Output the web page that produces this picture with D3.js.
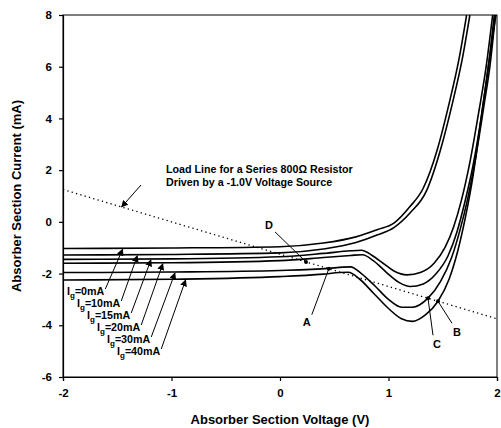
<!DOCTYPE html>
<html>
<head>
<meta charset="utf-8">
<script src="https://cdn.jsdelivr.net/npm/d3@7"></script>
<style>
  body { margin: 0; background: #fff; }
  text { font-family: "Liberation Sans", Arial, sans-serif; font-weight: bold; fill: #000; }
</style>
</head>
<body>
<div id="chart"></div>
<script>
// gain section currents, one curve each
const gainLabels = ["0mA", "10mA", "15mA", "20mA", "30mA", "40mA"];

// [voltage (V), current (mA)]
const curveIg0 = [[-2, -1.03], [-1, -1.01], [0, -0.96], [0.4, -0.82], [0.7, -0.58], [0.9, -0.3], [1.05, -0.05],
  [1.2, 0.6], [1.32, 1.3], [1.45, 2.8], [1.56, 4.6], [1.65, 6.3], [1.72, 8]];
const curveIg10 = [[-2, -1.28], [-1, -1.26], [0, -1.2], [0.4, -1.05], [0.7, -0.8], [0.9, -0.5], [1.05, -0.22],
  [1.2, 0.35], [1.35, 1.2], [1.48, 2.8], [1.59, 4.6], [1.68, 6.3], [1.75, 8]];
const curveIg15 = [[-2, -1.45], [-1, -1.43], [0, -1.35], [0.4, -1.22], [0.65, -1.12], [0.75, -1.1], [0.85, -1.3],
  [0.95, -1.6], [1.05, -1.9], [1.17, -2.05], [1.3, -1.95], [1.42, -1.6], [1.52, -1.0], [1.6, -0.2], [1.67, 0.8],
  [1.75, 2.3], [1.83, 4.2], [1.9, 6.0], [1.96, 8]];
const curveIg20 = [[-2, -1.6], [-1, -1.58], [0, -1.5], [0.4, -1.38], [0.65, -1.3], [0.76, -1.27], [0.86, -1.5],
  [0.98, -1.95], [1.1, -2.35], [1.2, -2.5], [1.32, -2.4], [1.44, -2.0], [1.55, -1.3], [1.63, -0.4], [1.7, 0.7],
  [1.78, 2.2], [1.86, 4.2], [1.92, 6], [1.975, 8]];
const curveIg30 = [[-2, -1.96], [-1, -1.94], [0, -1.88], [0.45, -1.8], [0.58, -1.75], [0.65, -1.74], [0.75, -2.0],
  [0.88, -2.5], [1.0, -3.0], [1.12, -3.3], [1.22, -3.3], [1.364, -2.95], [1.48, -2.3], [1.58, -1.4], [1.66, -0.3],
  [1.73, 0.9], [1.8, 2.4], [1.88, 4.5], [1.94, 6.2], [1.985, 8]];
const curveIg40 = [[-2, -2.25], [-1, -2.22], [0, -2.12], [0.4, -2.02], [0.55, -1.96], [0.63, -1.95], [0.73, -2.2],
  [0.86, -2.75], [1.0, -3.35], [1.12, -3.75], [1.22, -3.85], [1.34, -3.6], [1.456, -3.07], [1.56, -2.2], [1.64, -1.1],
  [1.71, 0.2], [1.78, 1.8], [1.86, 4.2], [1.93, 6.3], [1.99, 8]];
const curves = [curveIg0, curveIg10, curveIg15, curveIg20, curveIg30, curveIg40];

// load line of the 800 ohm resistor, -1.0V source
const loadLine = [[-2, 1.25], [2, -3.75]];

// operating points on the load line
const pointNames = ["A", "B", "C", "D"];
const pointVolts = [0.45, 1.456, 1.364, 0.24];

// where each Ig arrow hits its curve
const arrowVolts = [-1.45, -1.315, -1.19, -1.08, -0.968, -0.87];

const voltTicks = [-2, -1, 0, 1, 2];
const currentTicks = [-6, -4, -2, 0, 2, 4, 6, 8];

const margin = { top: 15, right: 4, bottom: 51, left: 63 };
const width = 501 - margin.left - margin.right;
const height = 428 - margin.top - margin.bottom;

const svg = d3.select("#chart")
  .append("svg")
  .attr("width", 501)
  .attr("height", 428)
  .append("g")
  .attr("transform", `translate(${margin.left}, ${margin.top})`);

const x = d3.scaleLinear().domain([-2, 2]).range([0, width]);
const y = d3.scaleLinear().domain([-6, 8]).range([height, 0]);

svg.append("defs").append("clipPath")
  .attr("id", "plot")
  .append("rect")
  .attr("width", width)
  .attr("height", height);

const marker = svg.select("defs").append("marker")
  .attr("id", "head")
  .attr("viewBox", "0 0 10 10")
  .attr("refX", 9)
  .attr("refY", 5)
  .attr("markerWidth", 7)
  .attr("markerHeight", 7)
  .attr("markerUnits", "userSpaceOnUse")
  .attr("orient", "auto");
marker.append("path").attr("d", "M0,0L10,5L0,10Z").attr("fill", "#000");

// frame
svg.append("rect")
  .attr("width", width)
  .attr("height", height)
  .attr("fill", "none")
  .attr("stroke", "#000")
  .attr("stroke-width", 1);

const xAxis = svg.append("g")
  .attr("transform", `translate(0, ${height})`)
  .call(d3.axisBottom(x).tickValues(voltTicks).tickSize(4).tickPadding(8).tickFormat(d3.format("d")));
const yAxis = svg.append("g")
  .call(d3.axisLeft(y).tickValues(currentTicks).tickSize(4).tickPadding(7).tickFormat(d3.format("d")));
[xAxis, yAxis].forEach(g => {
  g.selectAll("text").style("font-size", "11.5px").attr("font-family", null).style("font-weight", "bold");
  g.selectAll("path, line").attr("stroke", "#000").attr("stroke-width", 1.2);
});
yAxis.selectAll("text").text(d => d < 0 ? "-" + Math.abs(d) : d);
xAxis.selectAll("text").text(d => d < 0 ? "-" + Math.abs(d) : d);

svg.append("text")
  .attr("x", width / 2)
  .attr("y", height + 47)
  .style("text-anchor", "middle")
  .style("font-size", "13px")
  .text("Absorber Section Voltage (V)");

svg.append("text")
  .attr("transform", `translate(${21 - margin.left}, ${height / 2}) rotate(-90)`)
  .style("text-anchor", "middle")
  .style("font-size", "13px")
  .text("Absorber Section Current (mA)");

const plot = svg.append("g").attr("clip-path", "url(#plot)");

// dotted load line
plot.append("path")
  .datum(loadLine)
  .attr("d", d3.line().x(d => x(d[0])).y(d => y(d[1])))
  .attr("fill", "none")
  .attr("stroke", "#000")
  .attr("stroke-width", 1.3)
  .attr("stroke-dasharray", "1.3,3.2");

const line = d3.line()
  .x(d => x(d[0]))
  .y(d => y(d[1]))
  .curve(d3.curveMonotoneX);

plot.selectAll(".iv")
  .data(curves)
  .enter()
  .append("path")
  .attr("class", "iv")
  .attr("d", line)
  .attr("fill", "none")
  .attr("stroke", "#000")
  .attr("stroke-width", 1.6);

// value of a curve at voltage v
function valueAt(data, v) {
  const i = Math.max(1, Math.min(data.length - 1, d3.bisector(d => d[0]).left(data, v)));
  const a = data[i - 1], b = data[i];
  return a[1] + (b[1] - a[1]) * (v - a[0]) / (b[0] - a[0]);
}

// Ig labels with arrows
gainLabels.forEach((lab, i) => {
  const lx = 4 + 10 * i;
  const ly = 295 - margin.top + 12 * i;
  const t = svg.append("text")
    .attr("x", lx)
    .attr("y", ly)
    .style("font-size", "10.7px");
  t.append("tspan").text("I");
  t.append("tspan").attr("dy", 3).style("font-size", "8px").text("g");
  t.append("tspan").attr("dy", -3).text("=" + lab);
  const end = lx + t.node().getComputedTextLength();
  const tv = arrowVolts[i];
  svg.append("line")
    .attr("x1", end + 1)
    .attr("y1", ly - 6)
    .attr("x2", x(tv))
    .attr("y2", y(valueAt(curves[i], tv)) + 1)
    .attr("stroke", "#000")
    .attr("stroke-width", 1)
    .attr("marker-end", "url(#head)");
});

// load line note
const note = svg.append("text")
  .attr("x", 166 - margin.left)
  .attr("y", 173 - margin.top)
  .style("font-size", "10.7px");
note.append("tspan").text("Load Line for a Series 800\u03A9 Resistor");
note.append("tspan").attr("x", 166 - margin.left).attr("dy", 13).text("Driven by a -1.0V Voltage Source");

svg.append("line")
  .attr("x1", 141 - margin.left)
  .attr("y1", 185 - margin.top)
  .attr("x2", x(-1.46))
  .attr("y2", y(valueAt(loadLine, -1.46)))
  .attr("stroke", "#000")
  .attr("stroke-width", 1)
  .attr("marker-end", "url(#head)");

// operating points
const labelOffsets = { A: [-22, 53, -17, 46], B: [19, 31, 14, 22], C: [9, 46, 5, 37], D: [-37, -37, -31, -30] };
pointNames.forEach((name, i) => {
  const px = x(pointVolts[i]);
  const py = y(valueAt(loadLine, pointVolts[i]));
  const o = labelOffsets[name];
  svg.append("line")
    .attr("x1", px)
    .attr("y1", py)
    .attr("x2", px + o[2])
    .attr("y2", py + o[3])
    .attr("stroke", "#000")
    .attr("stroke-width", 1);
  svg.append("circle")
    .attr("cx", px)
    .attr("cy", py)
    .attr("r", 2)
    .attr("fill", "#000");
  svg.append("text")
    .attr("x", px + o[0])
    .attr("y", py + o[1])
    .attr("dy", "0.35em")
    .style("text-anchor", "middle")
    .style("font-size", "11px")
    .text(name);
});
</script>
</body>
</html>
